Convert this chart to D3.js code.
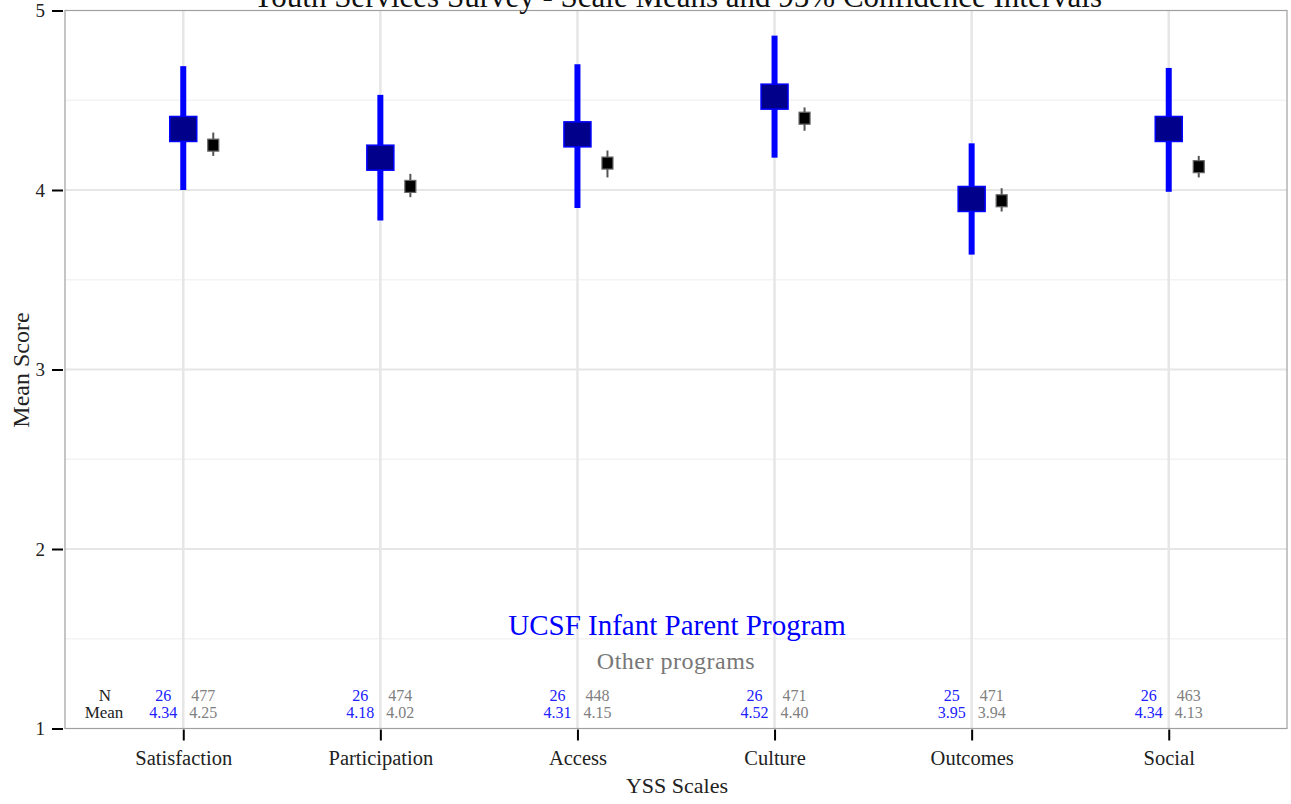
<!DOCTYPE html>
<html><head><meta charset="utf-8">
<script src="https://cdn.jsdelivr.net/npm/d3@7"></script>
<style>body{margin:0;background:#fff;} svg{display:block;} text{font-family:"Liberation Serif","Times New Roman",serif;}</style>
</head><body>
<svg id="chart" width="1291" height="804"></svg>
<script>
const categories = ["Satisfaction","Participation","Access","Culture","Outcomes","Social"];
const progMean = [4.34,4.18,4.31,4.52,3.95,4.34];
const progLow  = [4.00,3.83,3.90,4.18,3.64,3.99];
const progHigh = [4.69,4.53,4.70,4.86,4.26,4.68];
const progN    = [26,26,26,26,25,26];
const othMean  = [4.25,4.02,4.15,4.40,3.94,4.13];
const othLow   = [4.19,3.96,4.07,4.33,3.88,4.07];
const othHigh  = [4.32,4.09,4.22,4.46,4.01,4.19];
const othN     = [477,474,448,471,471,463];
const yTicks = [1,2,3,4,5];
const yMinor = [1.5,2.5,3.5,4.5];

const svg = d3.select("#chart");
const L = 65, R = 1287, T = 10.5, B = 728.5;
const x = d3.scalePoint().domain(categories).range([L, R]).padding(0.6);
const y = d3.scaleLinear().domain([1,5]).range([B, T]);
const off = 30;
const SERIF = '"Liberation Serif","Times New Roman",serif';

// grid
svg.append("g").selectAll("line").data(yMinor).join("line")
  .attr("x1", L).attr("x2", R).attr("y1", d=>y(d)).attr("y2", d=>y(d))
  .attr("stroke", "#f3f3f3").attr("stroke-width", 1.5);
svg.append("g").selectAll("line").data(yTicks.filter(d=>d>1&&d<5)).join("line")
  .attr("x1", L).attr("x2", R).attr("y1", d=>y(d)).attr("y2", d=>y(d))
  .attr("stroke", "#e6e6e6").attr("stroke-width", 2);
svg.append("g").selectAll("line").data(categories).join("line")
  .attr("x1", d=>x(d)).attr("x2", d=>x(d)).attr("y1", T).attr("y2", B)
  .attr("stroke", "#e6e6e6").attr("stroke-width", 2.5);

// axes
const yAxis = svg.append("g").attr("transform", `translate(${L-2},0)`)
  .call(d3.axisLeft(y).tickValues(yTicks).tickFormat(d3.format("d")).tickSize(11).tickPadding(7));
yAxis.select(".domain").remove();
yAxis.selectAll(".tick line").attr("stroke", "#000").attr("stroke-width", 2);
yAxis.selectAll(".tick text").attr("font-size", 19).attr("fill", "#222").style("font-family", SERIF);

const xAxis = svg.append("g").attr("transform", `translate(0,${B+1})`)
  .call(d3.axisBottom(x).tickSize(11).tickPadding(10));
xAxis.select(".domain").remove();
xAxis.selectAll(".tick line").attr("stroke", "#000").attr("stroke-width", 2);
xAxis.selectAll(".tick text").attr("font-size", 20.5).attr("fill", "#222").style("font-family", SERIF);

// panel border
svg.append("rect").attr("x", L).attr("y", T).attr("width", R-L).attr("height", B-T)
  .attr("fill", "none").attr("stroke", "#a0a0a0").attr("stroke-width", 1.2);

// other programs
const idx = d3.range(categories.length);
svg.append("g").selectAll("line").data(idx).join("line")
  .attr("x1", i=>x(categories[i])+off).attr("x2", i=>x(categories[i])+off)
  .attr("y1", i=>y(othLow[i])).attr("y2", i=>y(othHigh[i]))
  .attr("stroke", "#555").attr("stroke-width", 2);
svg.append("g").selectAll("rect").data(idx).join("rect")
  .attr("x", i=>x(categories[i])+off-5.5).attr("y", i=>y(othMean[i])-6)
  .attr("width", 11).attr("height", 12)
  .attr("fill", "#000").attr("stroke", "#666").attr("stroke-width", 1.2);

// program
svg.append("g").selectAll("line").data(idx).join("line")
  .attr("x1", i=>x(categories[i])).attr("x2", i=>x(categories[i]))
  .attr("y1", i=>y(progLow[i])).attr("y2", i=>y(progHigh[i]))
  .attr("stroke", "#0000ff").attr("stroke-width", 6);
svg.append("g").selectAll("rect").data(idx).join("rect")
  .attr("x", i=>x(categories[i])-13.5).attr("y", i=>y(progMean[i])-12.5)
  .attr("width", 27).attr("height", 25)
  .attr("fill", "#00008b").attr("stroke", "#0000ff").attr("stroke-width", 1.5);

// table
svg.append("text").attr("x", 105).attr("y", 701).attr("text-anchor","middle").attr("font-size",17).attr("fill","#222").text("N");
svg.append("text").attr("x", 104).attr("y", 718).attr("text-anchor","middle").attr("font-size",17).attr("fill","#222").text("Mean");
const tb = svg.append("g");
tb.selectAll("text.bn").data(idx).join("text").attr("class","bn")
  .attr("x", i=>x(categories[i])-20).attr("y", 701).attr("text-anchor","middle").attr("font-size",16).attr("fill","#2020ff").text(i=>progN[i]);
tb.selectAll("text.bm").data(idx).join("text").attr("class","bm")
  .attr("x", i=>x(categories[i])-20).attr("y", 718).attr("text-anchor","middle").attr("font-size",16).attr("fill","#2020ff").text(i=>progMean[i].toFixed(2));
tb.selectAll("text.gn").data(idx).join("text").attr("class","gn")
  .attr("x", i=>x(categories[i])+20).attr("y", 701).attr("text-anchor","middle").attr("font-size",16).attr("fill","#808080").text(i=>othN[i]);
tb.selectAll("text.gm").data(idx).join("text").attr("class","gm")
  .attr("x", i=>x(categories[i])+20).attr("y", 718).attr("text-anchor","middle").attr("font-size",16).attr("fill","#808080").text(i=>othMean[i].toFixed(2));

// legend texts
svg.append("text").attr("x", 677).attr("y", 635).attr("text-anchor","middle").attr("font-size",29).attr("fill","#0000ff").text("UCSF Infant Parent Program");
svg.append("text").attr("x", 676).attr("y", 669).attr("text-anchor","middle").attr("font-size",24).attr("fill","#777").attr("letter-spacing","0.5").text("Other programs");

// titles
svg.append("text").attr("x", 677).attr("y", 7).attr("text-anchor","middle").attr("font-size",31).attr("fill","#111").text("Youth Services Survey - Scale Means and 95% Confidence Intervals");
svg.append("text").attr("x", 677).attr("y", 793).attr("text-anchor","middle").attr("font-size",22).attr("fill","#222").text("YSS Scales");
svg.append("text").attr("transform","translate(29,370) rotate(-90)").attr("text-anchor","middle").attr("font-size",24).attr("fill","#222").text("Mean Score");
</script>
</body></html>
